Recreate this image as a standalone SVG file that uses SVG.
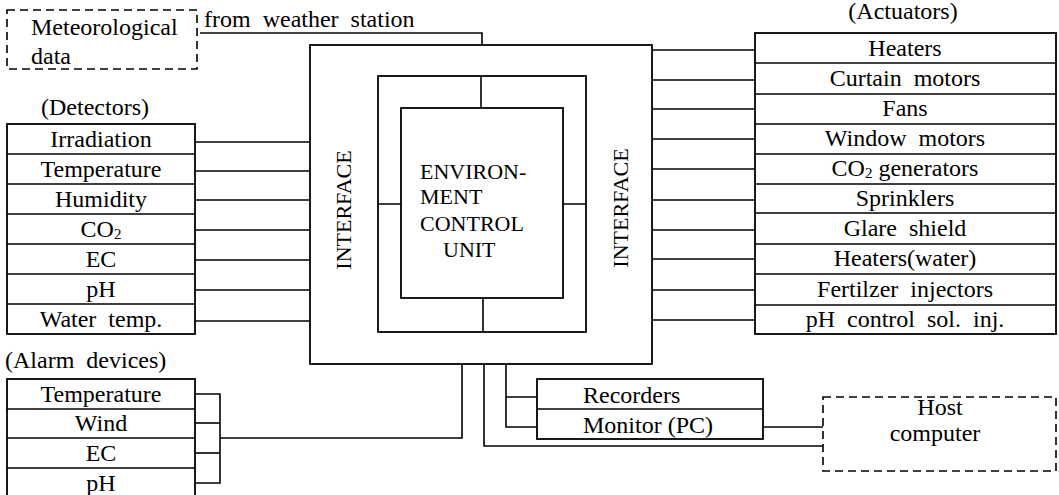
<svg xmlns="http://www.w3.org/2000/svg" width="1059" height="495" viewBox="0 0 1059 495">
<style>
.b{fill:#fff;stroke:#000;stroke-width:1.8}
.d{fill:none;stroke:#000;stroke-width:1.6;stroke-dasharray:8 5}
.l{fill:none;stroke:#000;stroke-width:1.6}
text{font-family:"Liberation Serif","Times New Roman",serif;font-size:24px;fill:#000}
text.s{font-size:22px}
.c{text-anchor:middle}
.w{word-spacing:6px}
</style>
<rect width="1059" height="495" fill="#fff"/>
<g id="connectors">
<polyline class="l" points="200,33 482,33 482,45"/>
<line class="l" x1="195" y1="142" x2="310" y2="142"/>
<line class="l" x1="195" y1="171" x2="310" y2="171"/>
<line class="l" x1="195" y1="200" x2="310" y2="200"/>
<line class="l" x1="195" y1="230" x2="310" y2="230"/>
<line class="l" x1="195" y1="260" x2="310" y2="260"/>
<line class="l" x1="195" y1="290" x2="310" y2="290"/>
<line class="l" x1="195" y1="321" x2="310" y2="321"/>
<line class="l" x1="652" y1="50" x2="755" y2="50"/>
<line class="l" x1="652" y1="80" x2="755" y2="80"/>
<line class="l" x1="652" y1="109" x2="755" y2="109"/>
<line class="l" x1="652" y1="139" x2="755" y2="139"/>
<line class="l" x1="652" y1="169" x2="755" y2="169"/>
<line class="l" x1="652" y1="200" x2="755" y2="200"/>
<line class="l" x1="652" y1="230" x2="755" y2="230"/>
<line class="l" x1="652" y1="259" x2="755" y2="259"/>
<line class="l" x1="652" y1="290" x2="755" y2="290"/>
<line class="l" x1="652" y1="320" x2="755" y2="320"/>
<polyline class="l" points="195,394 220,394 220,483 195,483"/>
<line class="l" x1="195" y1="423" x2="220" y2="423"/>
<line class="l" x1="195" y1="453" x2="220" y2="453"/>
<polyline class="l" points="220,438 462,438 462,364"/>
<polyline class="l" points="484,364 484,446 823,446"/>
<polyline class="l" points="537,397 506,397 506,364"/>
<polyline class="l" points="506,397 506,427 537,427"/>
<line class="l" x1="763" y1="427" x2="823" y2="427"/>
</g>
<g id="meteorological">
<rect class="d" x="7" y="10" width="190" height="59"/>
<text x="31" y="35">Meteorological</text>
<text x="31" y="64">data</text>
</g>
<text x="204" y="27" class="w">from weather station</text>
<g id="detectors">
<text x="95" y="115" class="c">(Detectors)</text>
<rect class="b" x="7" y="124" width="188" height="210"/>
<path class="l" d="M7 154H195M7 184H195M7 214H195M7 244H195M7 274H195M7 304H195"/>
<text x="101" y="147" class="c">Irradiation</text>
<text x="101" y="177" class="c">Temperature</text>
<text x="101" y="207" class="c">Humidity</text>
<text x="101" y="237" class="c">CO<tspan font-size="15" dy="2">2</tspan></text>
<text x="101" y="267" class="c">EC</text>
<text x="101" y="297" class="c">pH</text>
<text x="101" y="327" class="c w">Water temp.</text>
</g>
<g id="alarms">
<text x="5" y="368" class="w">(Alarm devices)</text>
<rect class="b" x="7" y="379" width="188" height="120"/>
<path class="l" d="M7 409H195M7 438H195M7 468H195"/>
<text x="101" y="402" class="c">Temperature</text>
<text x="101" y="431" class="c">Wind</text>
<text x="101" y="461" class="c">EC</text>
<text x="101" y="491" class="c">pH</text>
</g>
<g id="control-unit">
<rect class="b" x="310" y="45" width="342" height="319"/>
<rect class="b" x="378" y="76" width="208" height="256"/>
<rect class="b" x="401" y="108" width="162" height="190"/>
<path class="l" d="M481 76V108M483 298V332M378 204H401M563 204H586"/>
<text transform="translate(351,210) rotate(-90)" class="c s">INTERFACE</text>
<text transform="translate(628,208) rotate(-90)" class="c s">INTERFACE</text>
<text x="420" y="179" class="s">ENVIRON-</text>
<text x="420" y="204" class="s">MENT</text>
<text x="420" y="231" class="s">CONTROL</text>
<text x="443" y="257" class="s">UNIT</text>
</g>
<g id="actuators">
<text x="903" y="19" class="c">(Actuators)</text>
<rect class="b" x="755" y="33" width="301" height="301"/>
<path class="l" d="M755 63H1056M755 94H1056M755 124H1056M755 154H1056M755 184H1056M755 213H1056M755 244H1056M755 274H1056M755 305H1056"/>
<text x="905" y="56" class="c">Heaters</text>
<text x="905" y="86" class="c w">Curtain motors</text>
<text x="905" y="116" class="c">Fans</text>
<text x="905" y="146" class="c w">Window motors</text>
<text x="905" y="176" class="c">CO<tspan font-size="15" dy="2">2</tspan><tspan dy="-2"> generators</tspan></text>
<text x="905" y="206" class="c">Sprinklers</text>
<text x="905" y="236" class="c w">Glare shield</text>
<text x="905" y="266" class="c">Heaters(water)</text>
<text x="905" y="297" class="c w">Fertilzer injectors</text>
<text x="905" y="327" class="c w">pH control sol. inj.</text>
</g>
<g id="recorders">
<rect class="b" x="537" y="379" width="226" height="60"/>
<line class="l" x1="537" y1="409" x2="763" y2="409"/>
<text x="583" y="403">Recorders</text>
<text x="583" y="433">Monitor (PC)</text>
</g>
<g id="host">
<rect class="d" x="823" y="397" width="233" height="74"/>
<text x="940" y="415" class="c">Host</text>
<text x="935" y="441" class="c">computer</text>
</g>
</svg>
